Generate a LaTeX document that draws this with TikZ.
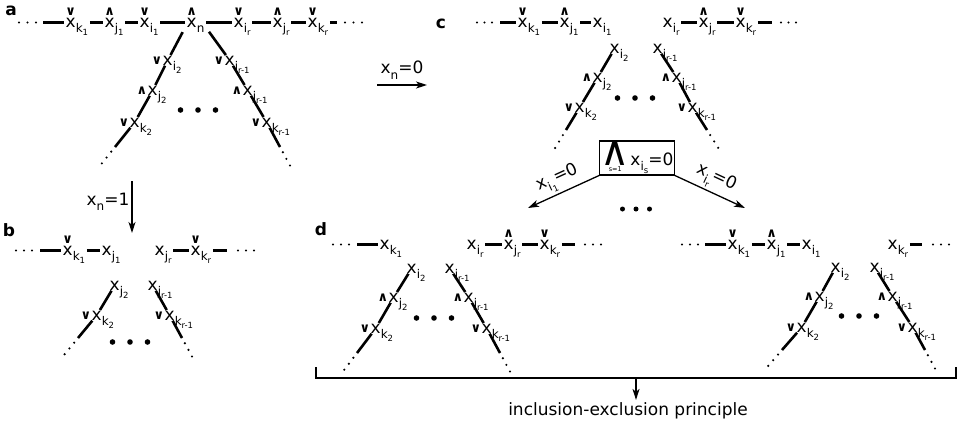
\documentclass[tikz,border=0pt]{standalone}
\usepackage{fontspec}
\setmainfont{DejaVu Sans}
\usetikzlibrary{arrows.meta,calc}

\newcommand{\varfont}{\fontsize{17}{20}\selectfont}
\newcommand{\subfnt}{\fontsize{12}{13}\selectfont}
\newcommand{\subsubfnt}{\fontsize{8.5}{9}\selectfont}
\newcommand{\markfnt}{\fontsize{13}{14}\selectfont\bfseries}
\newcommand{\xsub}[2]{\raisebox{-5.5pt}{\subfnt #1\raisebox{-3pt}{\subsubfnt #2}}}
\newcommand{\xtop}[3]{\ooalign{x\cr\hidewidth\raisebox{11.5pt}{\markfnt #1}\hidewidth\cr}\xsub{#2}{#3}}
\newcommand{\xrow}[2]{x\xsub{#1}{#2}}
\newcommand{\xleg}[3]{\llap{\raisebox{0.5pt}{\markfnt #1}\kern0.5pt}x\rlap{\xsub{#2}{#3}}}

\begin{document}
\begin{tikzpicture}[x=1pt,y=-1pt,
  var/.style={anchor=base west,inner xsep=1.5pt,inner ysep=0.5pt,text height=9.3pt,text depth=0pt,font=\varfont},
  tag/.style={font=\varfont\bfseries},
  bond/.style={line width=2.6pt},
  arr/.style={line width=1.3pt,-{Stealth[length=11pt,width=7pt,inset=3pt]}},
  lab/.style={font=\varfont,inner sep=2pt},
  box/.style={draw,line width=1.3pt,minimum width=70pt,minimum height=32pt,inner sep=1pt,font=\varfont}]
\useasboundingbox (0,0) rectangle (962,424);

\node[tag] (a-tag) at (11,10.5) {a};
\foreach \x in {19,27.5,36} \fill (\x,22.5) circle (1.2pt);
\coordinate (a-l0) at (43,22.35);
\node[var] (a-k1) at (64,27) {\xtop{∨}{k}{1}};
\node[var] (a-j1) at (103,27) {\xtop{∧}{j}{1}};
\node[var] (a-i1) at (138,27) {\xtop{∨}{i}{1}};
\node[var] (a-n) at (185,27) {\xtop{∧}{n}{}};
\node[var] (a-ir) at (232,27) {\xtop{∨}{i}{r}};
\node[var] (a-jr) at (271,27) {\xtop{∧}{j}{r}};
\node[var] (a-kr) at (306,27) {\xtop{∨}{k}{r}};
\coordinate (a-r0) at (337,22.35);
\foreach \x in {345,353.5,362} \fill (\x,22.5) circle (1.2pt);
\draw[bond] (a-l0) -- (a-k1) -- (a-j1) -- (a-i1) -- (a-n) -- (a-ir) -- (a-jr) -- (a-kr) -- (a-r0);
\node[var] (a-i2) at (161,65) {\xleg{∨}{i}{2}};
\node[var] (a-j2) at (146,95) {\xleg{∧}{j}{2}};
\node[var] (a-k2) at (128,127) {\xleg{∨}{k}{2}};
\coordinate (a-le) at (115,147);
\node[var] (a-ir1) at (223,65) {\xleg{∨}{i}{r-1}};
\node[var] (a-jr1) at (241,95) {\xleg{∧}{j}{r-1}};
\node[var] (a-kr1) at (260,127) {\xleg{∨}{k}{r-1}};
\coordinate (a-re) at (280,147);
\draw[bond,shorten <=5pt] (a-n.south west) -- (a-i2);
\draw[bond,shorten <=5pt] (a-n.south east) -- (a-ir1);
\draw[bond] (a-i2) -- (a-j2) -- (a-k2) -- (a-le);
\draw[bond] (a-ir1) -- (a-jr1) -- (a-kr1) -- (a-re);
\coordinate (a-mid) at (198,110);

\coordinate (n0-s) at (377,85);
\coordinate (n0-e) at (427,85);
\draw[arr] (n0-s) -- node[lab,above] (n0-lab) {x\xsub{n}{}=0} (n0-e);
\coordinate (n1-s) at (132,181);
\coordinate (n1-e) at (132,233);
\draw[arr] (n1-s) -- node[lab,left,pos=0.43] (n1-lab) {x\xsub{n}{}=1} (n1-e);

\node[tag] (b-tag) at (9,230) {b};
\foreach \x in {16,24,32} \fill (\x,250.5) circle (1.2pt);
\coordinate (b-l0) at (40,250.35);
\node[var] (b-k1) at (61,255) {\xtop{∨}{k}{1}};
\node[var] (b-j1) at (100,255) {\xrow{j}{1}};
\node[var] (b-jr) at (153,255) {\xrow{j}{r}};
\node[var] (b-kr) at (189,255) {\xtop{∨}{k}{r}};
\coordinate (b-r0) at (227,250.35);
\foreach \x in {238,246,254} \fill (\x,250.5) circle (1.2pt);
\draw[bond] (b-l0) -- (b-k1) -- (b-j1);
\draw[bond] (b-jr) -- (b-kr) -- (b-r0);
\node[var] (b-j2) at (108,290) {\xleg{}{j}{2}};
\node[var] (b-k2) at (90,320) {\xleg{∨}{k}{2}};
\coordinate (b-le) at (78,338);
\node[var] (b-jr1) at (146,290) {\xleg{}{j}{r-1}};
\node[var] (b-kr1) at (163,320) {\xleg{∨}{k}{r-1}};
\coordinate (b-re) at (182,338);
\draw[bond] (b-j2) -- (b-k2) -- (b-le);
\draw[bond] (b-jr1) -- (b-kr1) -- (b-re);
\coordinate (b-mid) at (130,342);

\node[tag] (c-tag) at (441,24) {c};
\foreach \x in {477,484.5,492} \fill (\x,22.5) circle (1.2pt);
\coordinate (c-l0) at (500,22.35);
\node[var] (c-k1) at (516,27) {\xtop{∨}{k}{1}};
\node[var] (c-j1) at (558,27) {\xtop{∧}{j}{1}};
\node[var] (c-i1) at (591,27) {\xrow{i}{1}};
\node[var] (c-ir) at (661,27) {\xrow{i}{r}};
\node[var] (c-jr) at (697,27) {\xtop{∧}{j}{r}};
\node[var] (c-kr) at (734,27) {\xtop{∨}{k}{r}};
\coordinate (c-r0) at (772,22.35);
\foreach \x in {781,788.5,796} \fill (\x,22.5) circle (1.2pt);
\draw[bond] (c-l0) -- (c-k1) -- (c-j1) -- (c-i1);
\draw[bond] (c-ir) -- (c-jr) -- (c-kr) -- (c-r0);
\node[var] (c-i2) at (608,53) {\xleg{}{i}{2}};
\node[var] (c-j2) at (591,82) {\xleg{∧}{j}{2}};
\node[var] (c-k2) at (573,112) {\xleg{∨}{k}{2}};
\coordinate (c-le) at (566,130);
\node[var] (c-ir1) at (651,53) {\xleg{}{i}{r-1}};
\node[var] (c-jr1) at (670,82) {\xleg{∧}{j}{r-1}};
\node[var] (c-kr1) at (686,112) {\xleg{∨}{k}{r-1}};
\coordinate (c-re) at (707,130);
\draw[bond] (c-i2) -- (c-j2) -- (c-k2) -- (c-le);
\draw[bond] (c-ir1) -- (c-jr1) -- (c-kr1) -- (c-re);
\coordinate (c-mid) at (635,98);

\node[box] (c-box) at (637,158) {$\mathop{\hbox{\fontsize{40}{40}\selectfont ∧}}\limits_{\hbox{\fontsize{6.5}{7}\selectfont s=1}}$\kern0.5pt x\xsub{i}{s}=0};
\coordinate (c-to1) at (528,208);
\coordinate (c-to2) at (745,208);
\draw[arr] (c-box.south west) -- node[lab,above,sloped] (c-lab1) {x\xsub{i}{1}=0} (c-to1);
\draw[arr] (c-box.south east) -- node[lab,above,sloped] (c-lab2) {x\xsub{i}{r}=0} (c-to2);
\coordinate (c-bot) at (636,209);
\foreach \dx in {-13.5,0,13.5} \fill ([xshift=\dx pt]c-bot) circle (2.5pt);

\node[tag] (d-tag) at (321,229) {d};
\foreach \x in {333,341,349} \fill (\x,244.5) circle (1.2pt);
\coordinate (d1-l0) at (357,244.35);
\node[var] (d1-k1) at (378,249) {\xrow{k}{1}};
\node[var] (d1-ir) at (465,249) {\xrow{i}{r}};
\node[var] (d1-jr) at (502,249) {\xtop{∧}{j}{r}};
\node[var] (d1-kr) at (538,249) {\xtop{∨}{k}{r}};
\coordinate (d1-r0) at (575,244.35);
\foreach \x in {585,593,601} \fill (\x,244.5) circle (1.2pt);
\draw[bond] (d1-l0) -- (d1-k1);
\draw[bond] (d1-ir) -- (d1-jr) -- (d1-kr) -- (d1-r0);
\node[var] (d1-i2) at (405,273) {\xleg{}{i}{2}};
\node[var] (d1-j2) at (387,302) {\xleg{∧}{j}{2}};
\node[var] (d1-k2) at (369,333) {\xleg{∨}{k}{2}};
\coordinate (d1-le) at (357,353);
\node[var] (d1-ir1) at (443,273) {\xleg{}{i}{r-1}};
\node[var] (d1-jr1) at (462,302) {\xleg{∧}{j}{r-1}};
\node[var] (d1-kr1) at (480,333) {\xleg{∨}{k}{r-1}};
\coordinate (d1-re) at (500,353);
\draw[bond] (d1-i2) -- (d1-j2) -- (d1-k2) -- (d1-le);
\draw[bond] (d1-ir1) -- (d1-jr1) -- (d1-kr1) -- (d1-re);
\coordinate (d1-mid) at (434,318);

\foreach \x in {682,690,698} \fill (\x,244.5) circle (1.2pt);
\coordinate (d2-l0) at (705,244.35);
\node[var] (d2-k1) at (726,249) {\xtop{∨}{k}{1}};
\node[var] (d2-j1) at (765,249) {\xtop{∧}{j}{1}};
\node[var] (d2-i1) at (800,249) {\xrow{i}{1}};
\node[var] (d2-kr) at (886,249) {\xrow{k}{r}};
\coordinate (d2-r0) at (922,244.35);
\foreach \x in {933,941,949} \fill (\x,244.5) circle (1.2pt);
\draw[bond] (d2-l0) -- (d2-k1) -- (d2-j1) -- (d2-i1);
\draw[bond] (d2-kr) -- (d2-r0);
\node[var] (d2-i2) at (829,272) {\xleg{}{i}{2}};
\node[var] (d2-j2) at (813,301) {\xleg{∧}{j}{2}};
\node[var] (d2-k2) at (795,332) {\xleg{∨}{k}{2}};
\coordinate (d2-le) at (782,350);
\node[var] (d2-ir1) at (868,272) {\xleg{}{i}{r-1}};
\node[var] (d2-jr1) at (886,301) {\xleg{∧}{j}{r-1}};
\node[var] (d2-kr1) at (906,332) {\xleg{∨}{k}{r-1}};
\coordinate (d2-re) at (925,350);
\draw[bond] (d2-i2) -- (d2-j2) -- (d2-k2) -- (d2-le);
\draw[bond] (d2-ir1) -- (d2-jr1) -- (d2-kr1) -- (d2-re);
\coordinate (d2-mid) at (859,316);

\foreach \p in {a,b,c,d1,d2} {
  \foreach \dx in {-17.5,0,17.5} \fill ([xshift=\dx pt]\p-mid) circle (2.8pt);
  \foreach \dd in {6,13.5,21} {
    \fill ($(\p-le)!-\dd pt!(\p-k2)$) circle (1.2pt);
    \fill ($(\p-re)!-\dd pt!(\p-kr1)$) circle (1.2pt);
  }
}

\coordinate (br-l) at (316,367);
\coordinate (br-r) at (956,367);
\coordinate (br-m) at (636,378);
\draw[line width=1.3pt] (br-l) |- (br-m) -| (br-r);
\node[lab,anchor=base] (ie) at (628,415) {inclusion-exclusion principle};
\draw[arr] (br-m) -- (br-m |- ie.north);
\end{tikzpicture}
\end{document}
